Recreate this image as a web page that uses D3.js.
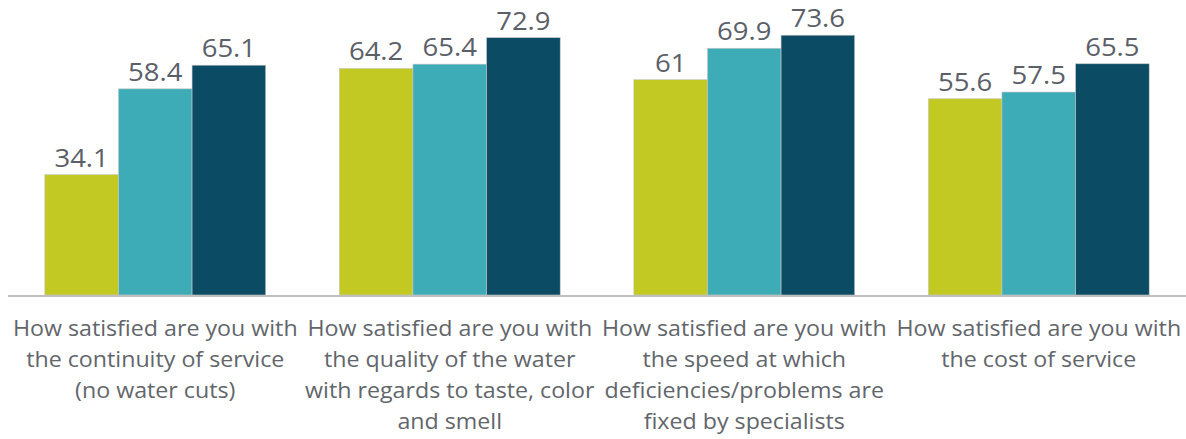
<!DOCTYPE html>
<html>
<head>
<meta charset="utf-8">
<script src="https://cdn.jsdelivr.net/npm/d3@7"></script>
<style>
  html, body { margin: 0; padding: 0; background: #ffffff; }
  svg { display: block; }
</style>
</head>
<body>
<svg id="chart" width="1186" height="439"></svg>
<script>
const categories = [
  ["How satisfied are you with", "the continuity of service", "(no water cuts)"],
  ["How satisfied are you with", "the quality of the water", "with regards to taste, color", "and smell"],
  ["How satisfied are you with", "the speed at which", "deficiencies/problems are", "fixed by specialists"],
  ["How satisfied are you with", "the cost of service"]
];
const seriesNames = ["Series 1", "Series 2", "Series 3"];
const series1 = [34.1, 64.2, 61, 55.6];
const series2 = [58.4, 65.4, 69.9, 57.5];
const series3 = [65.1, 72.9, 73.6, 65.5];
const colors = ["#c2c923", "#3eacb6", "#0b4b63"];

const allSeries = [series1, series2, series3];
const svg = d3.select("#chart");
const font = "'Open Sans', sans-serif";

const x0 = d3.scaleBand().domain(d3.range(categories.length)).range([8, 1186]).paddingInner(0).paddingOuter(0);
const x1 = d3.scaleBand().domain(d3.range(seriesNames.length)).range([0, x0.bandwidth()]).paddingOuter(0.5).paddingInner(0);
const y = d3.scaleLinear().domain([0, 100]).range([295, -58]);

const groups = svg.selectAll("g.grp").data(categories).join("g")
  .attr("class", "grp")
  .attr("transform", (d, i) => `translate(${x0(i)},0)`);

groups.each(function(cat, ci) {
  const g = d3.select(this);
  allSeries.forEach((s, si) => {
    g.append("rect")
      .attr("x", x1(si))
      .attr("y", y(s[ci]))
      .attr("width", x1.bandwidth())
      .attr("height", y(0) - y(s[ci]))
      .attr("fill", colors[si])
      .attr("stroke", "#c8c8c8")
      .attr("stroke-width", 0.6);
    g.append("text")
      .attr("transform", `translate(${x1(si) + x1.bandwidth() / 2},${y(s[ci]) - 8}) scale(1.1,1)`)
      .attr("text-anchor", "middle")
      .attr("font-family", font)
      .attr("font-size", 25)
      .attr("fill", "#5b6068")
      .text(s[ci]);
  });
});

// axis line
svg.append("line")
  .attr("x1", 8).attr("x2", 1186)
  .attr("y1", 296).attr("y2", 296)
  .attr("stroke", "#bfbfbf").attr("stroke-width", 2);

// category labels
groups.each(function(cat, ci) {
  const g = d3.select(this);
  const t = g.append("text")
    .attr("transform", `translate(${x0.bandwidth() / 2},0) scale(1.08,1)`)
    .attr("text-anchor", "middle")
    .attr("font-family", font)
    .attr("font-size", 21.5)
    .attr("fill", "#62666b");
  cat.forEach((line, li) => {
    t.append("tspan")
      .attr("x", 0)
      .attr("y", 336 + li * 31)
      .text(line);
  });
});
</script>
</body>
</html>
